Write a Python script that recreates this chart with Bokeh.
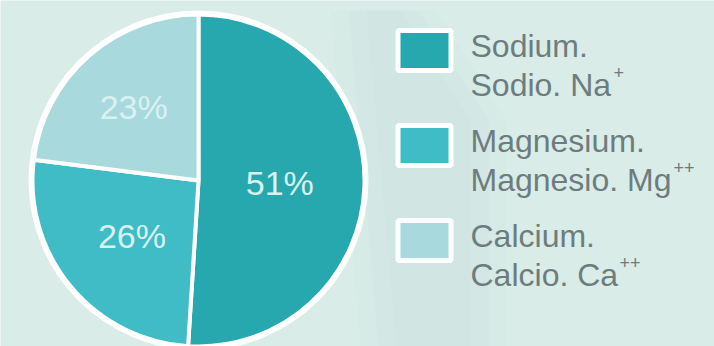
import numpy as np
from bokeh.plotting import figure
from bokeh.models import Range1d, ColumnDataSource
from bokeh.core.properties import value
from bokeh.embed import file_html
from bokeh.resources import INLINE

# ---- data ----
names = ["Sodium.", "Magnesium.", "Calcium."]
names_es = ["Sodio. Na", "Magnesio. Mg", "Calcio. Ca"]
charges = ["+", "++", "++"]
values = [51, 26, 23]
labels = ["51%", "26%", "23%"]
colors = ["#27a8ae", "#3fbcc6", "#a7d9dd"]

W, H = 714, 346
BG = "#d9ece8"
FONT = value("Liberation Sans")
TXT = "#6d7d7e"

p = figure(width=W, height=H, x_range=Range1d(0, W), y_range=Range1d(0, H),
           output_backend="svg", toolbar_location=None, min_border=0)
p.axis.visible = False
p.grid.visible = False
p.outline_line_color = None
p.background_fill_color = BG
p.border_fill_color = BG

# very soft shading to the right of the pie
for i, a in enumerate([0.025, 0.025, 0.025]):
    off = i * 18
    p.patch([330 + off, 400 + off, 470 + off, 470 + off, 360 + off],
            [H - 10, H - 10, H - 120, 0, 0],
            fill_color="#7f9c9c", fill_alpha=a, line_color=None)

# ---- pie ----
cx, cy, R = 198, H - 180, 166
frac = np.array(values, dtype=float) / sum(values)
cum = np.concatenate([[0.0], np.cumsum(frac)])
start = np.pi / 2 - cum[:-1] * 2 * np.pi
end = np.pi / 2 - cum[1:] * 2 * np.pi
mid = np.pi / 2 - (cum[:-1] + cum[1:]) / 2 * 2 * np.pi
lr = np.array([0.49, 0.52, 0.59]) * R

src = ColumnDataSource(dict(start=start, end=end, color=colors,
                            lx=cx + lr * np.cos(mid),
                            ly=cy + lr * np.sin(mid),
                            label=labels))

p.circle(x=[cx], y=[cy], radius=R + 4, fill_color="white", line_color=None)
p.wedge(x=cx, y=cy, radius=R, start_angle="start", end_angle="end",
        direction="clock", fill_color="color", line_color="white",
        line_width=4, source=src)
p.text(x="lx", y="ly", text="label", source=src, text_font=FONT,
       text_font_size="34px", text_color="#daf1f2", text_align="center",
       text_baseline="middle")

# ---- legend ----
sq_y = np.array([50, 145, 240])
lsrc = ColumnDataSource(dict(
    sx=[424] * 3, sy=H - sq_y, color=colors,
    tx=[470] * 3, t1y=H - (sq_y - 5), t2y=H - (sq_y + 34),
    n1=names, n2=names_es, ch=charges,
    cxp=[613, 673, 619], cyp=H - (sq_y + 22),
))
p.rect(x="sx", y="sy", width=53, height=40, fill_color="color",
       line_color="white", line_width=5, source=lsrc)
p.text(x="tx", y="t1y", text="n1", source=lsrc, text_font=FONT,
       text_font_size="32px", text_color=TXT, text_baseline="middle")
p.text(x="tx", y="t2y", text="n2", source=lsrc, text_font=FONT,
       text_font_size="32px", text_color=TXT, text_baseline="middle")
p.text(x="cxp", y="cyp", text="ch", source=lsrc, text_font=FONT,
       text_font_size="18px", text_color=TXT, text_baseline="middle")

open("out.html", "w").write(file_html(p, INLINE))
